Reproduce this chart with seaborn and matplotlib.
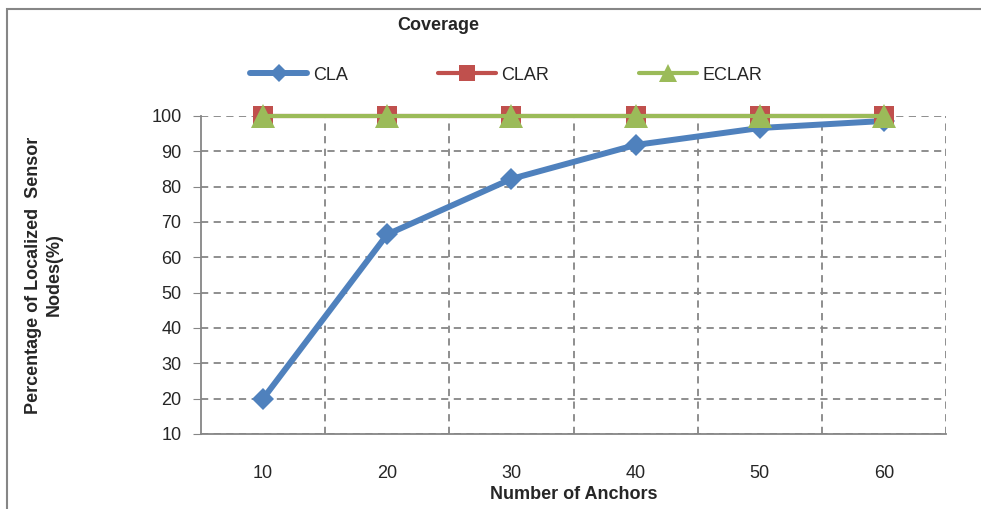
import matplotlib
matplotlib.use("Agg")
import matplotlib.pyplot as plt
import seaborn as sns
import pandas as pd
from matplotlib.patches import Rectangle
from matplotlib.ticker import FixedLocator

anchors = [10, 20, 30, 40, 50, 60]
cla = [20, 66.5, 82.2, 91.8, 96.6, 98.6]
clar = [100, 100, 100, 100, 100, 100]
eclar = [100, 100, 100, 100, 100, 100]
series_names = ["CLA", "CLAR", "ECLAR"]
y_ticks = [10, 20, 30, 40, 50, 60, 70, 80, 90, 100]

sns.set_style("white")
plt.rcParams['font.family'] = ['Liberation Sans', 'DejaVu Sans']

fig = plt.figure(figsize=(9.81, 5.09), dpi=100)
ax = fig.add_axes([201/981, 1-434/509, (946-201)/981, (434-116)/509])

df = pd.DataFrame({"anchors": anchors, "CLA": cla, "CLAR": clar, "ECLAR": eclar})

styles = {
    "CLA": dict(color="#4F81BD", marker="D", markersize=11, linewidth=4.3),
    "CLAR": dict(color="#C0504D", marker="s", markersize=15, linewidth=3.0),
    "ECLAR": dict(color="#9BBB59", marker="^", markersize=17, linewidth=3.0),
}
for name in series_names:
    st = styles[name]
    sns.lineplot(data=df, x="anchors", y=name, ax=ax, label=name,
                 color=st["color"], marker=st["marker"], markersize=st["markersize"],
                 linewidth=st["linewidth"], markeredgewidth=0, clip_on=False, zorder=3)

ax.set_xlim(5, 65)
ax.set_ylim(10, 100)
ax.xaxis.set_major_locator(FixedLocator(anchors))
ax.xaxis.set_minor_locator(FixedLocator([15, 25, 35, 45, 55, 65]))
ax.yaxis.set_major_locator(FixedLocator(y_ticks))
ax.set_yticklabels([str(v) for v in y_ticks])

ax.grid(False)
ax.grid(True, which="minor", axis="x", color="#868686", linestyle=(0, (4, 3)), linewidth=1.3)
ax.grid(True, which="major", axis="y", color="#868686", linestyle=(0, (4, 3)), linewidth=1.3)
ax.set_axisbelow(True)

for s in ["top", "right"]:
    ax.spines[s].set_visible(False)
for s in ["left", "bottom"]:
    ax.spines[s].set_color("#868686")
    ax.spines[s].set_linewidth(1.3)

ax.tick_params(axis="x", which="major", length=0, pad=22, labelsize=13)
ax.tick_params(axis="x", which="minor", length=5, color="#868686", direction="out")
ax.tick_params(axis="y", which="major", length=6, color="#868686", pad=8, labelsize=13, left=True)

ax.set_xlabel("Number of Anchors", fontsize=13, fontweight="bold", labelpad=3)
ax.set_ylabel("Percentage of Localized  Sensor\nNodes(%)", fontsize=13, fontweight="bold",
              labelpad=64, linespacing=1.3)

leg = ax.legend(loc="center", bbox_to_anchor=((506-201)/745, (434-75)/318), ncol=3,
                frameon=False, fontsize=13, handlelength=3.2, columnspacing=5.0,
                handletextpad=0.3, markerscale=0.8)

fig.text(438/981, 1-25/509, "Coverage", ha="center", va="center", fontsize=13, fontweight="bold")

fig.patches.append(Rectangle((7/981, -0.1), 1.2, 1-8.5/509+0.1, transform=fig.transFigure,
                             fill=False, edgecolor="#868686", linewidth=1.5))

fig.savefig("out.png", dpi=100)
